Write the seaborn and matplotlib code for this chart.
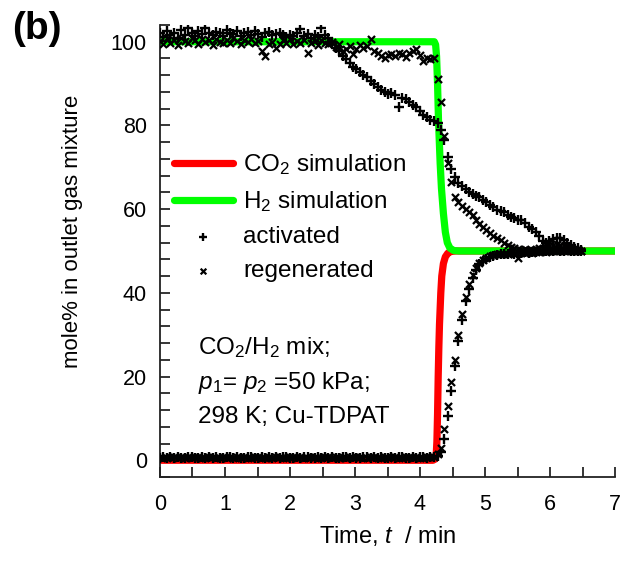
import matplotlib
matplotlib.use("Agg")
import matplotlib.pyplot as plt
from matplotlib.ticker import MultipleLocator
import pandas as pd
import seaborn as sns

# ---- simulated breakthrough curves (mole % vs time, min) ----
co2_sim_time = [0.0, 4.20, 4.235, 4.25, 4.26, 4.27, 4.28, 4.29, 4.30, 4.32,
                4.335, 4.36, 4.39, 4.43, 4.48, 4.55, 7.0]
co2_sim = [0.0, 0.0, 0.3, 1.5, 4.5, 11.0, 20.0, 27.0, 32.5, 40.0,
           44.0, 47.0, 48.6, 49.5, 49.9, 50.0, 50.0]

h2_sim_time = [0.0, 4.22, 4.24, 4.255, 4.27, 4.285, 4.31, 4.33, 4.36, 4.39,
               4.42, 4.46, 4.52, 4.60, 7.0]
h2_sim = [100.0, 100.0, 99.3, 96.5, 90.0, 81.0, 71.0, 65.0, 59.0, 54.5,
          52.0, 50.7, 50.1, 50.0, 50.0]

# ---- experimental sampling times (min) ----
t_exp = [0.00, 0.05, 0.11, 0.16, 0.22, 0.27, 0.32, 0.38, 0.43, 0.49,
         0.54, 0.59, 0.65, 0.70, 0.76, 0.81, 0.86, 0.92, 0.97, 1.03,
         1.08, 1.13, 1.19, 1.24, 1.30, 1.35, 1.40, 1.46, 1.51, 1.57,
         1.62, 1.67, 1.73, 1.78, 1.84, 1.89, 1.94, 2.00, 2.05, 2.11,
         2.16, 2.21, 2.27, 2.32, 2.38, 2.43, 2.48, 2.54, 2.59, 2.65,
         2.70, 2.75, 2.81, 2.86, 2.92, 2.97, 3.02, 3.08, 3.13, 3.19,
         3.24, 3.29, 3.35, 3.40, 3.46, 3.51, 3.56, 3.62, 3.67, 3.73,
         3.78, 3.83, 3.89, 3.94, 4.00, 4.05, 4.10, 4.16, 4.21, 4.27,
         4.32, 4.37, 4.43, 4.48, 4.54, 4.59, 4.64, 4.70, 4.75, 4.81,
         4.86, 4.91, 4.97, 5.02, 5.08, 5.13, 5.18, 5.24, 5.29, 5.35,
         5.40, 5.45, 5.51, 5.56, 5.62, 5.67, 5.72, 5.78, 5.83, 5.89,
         5.94, 5.99, 6.05, 6.10, 6.16, 6.21, 6.26, 6.32, 6.37, 6.43,
         6.48]

# ---- activated sample ----
activated_h2 = [102.0, 101.2, 102.5, 101.6, 102.2, 101.0, 102.8, 101.5, 103.3, 102.0,
                101.4, 102.6, 101.8, 103.3, 102.1, 101.6, 102.4, 102.0, 101.3, 102.7,
                102.2, 101.8, 102.5, 101.4, 102.0, 102.3, 101.7, 102.6, 101.9, 101.2,
                102.0, 102.4, 101.6, 101.9, 102.2, 101.5, 101.1, 101.7, 101.3, 102.0,
                103.0, 101.4, 101.9, 101.0, 101.6, 101.2, 103.3, 101.5, 101.0, 100.0,
                98.5, 97.8, 96.5, 95.8, 95.0, 94.0, 93.4, 92.8, 92.0, 91.5,
                90.6, 90.0, 89.2, 88.4, 88.0, 87.6, 87.8, 87.2, 84.5, 86.5,
                86.2, 85.6, 85.0, 84.3, 83.5, 82.6, 82.0, 81.4, 81.0, 80.5,
                79.0, 76.5, 72.5, 69.5, 67.8, 66.3, 65.5, 64.8, 64.2, 63.7,
                63.2, 62.8, 62.2, 61.6, 60.9, 60.4, 59.9, 59.5, 59.2, 58.7,
                58.2, 57.8, 57.3, 57.4, 56.6, 55.8, 55.2, 54.6, 53.5, 52.4,
                52.0, 52.3, 52.8, 53.2, 53.0, 52.6, 52.0, 51.5, 51.0, 50.6,
                50.3]
activated_co2 = [0.6, 0.7, 0.5, 0.8, 0.6, 0.7, 0.5, 0.6, 0.8, 0.7,
                 0.5, 0.6, 0.7, 0.6, 0.8, 0.5, 0.7, 0.6, 0.5, 0.7,
                 0.8, 0.6, 0.7, 0.5, 0.6, 0.8, 0.7, 0.6, 0.5, 0.7,
                 0.6, 0.8, 0.5, 0.7, 0.6, 0.7, 0.8, 0.6, 0.5, 0.7,
                 0.6, 0.7, 0.8, 0.5, 0.6, 0.7, 0.6, 0.8, 0.5, 0.7,
                 0.6, 0.5, 0.7, 0.8, 0.6, 0.7, 0.5, 0.6, 0.8, 0.7,
                 0.5, 0.7, 0.6, 0.8, 0.6, 0.5, 0.7, 0.6, 0.8, 0.7,
                 0.6, 0.5, 0.7, 0.6, 0.8, 0.7, 0.6, 0.7, 0.8, 1.1,
                 2.0, 5.0, 10.5, 16.5, 22.5, 28.5, 33.5, 38.0, 41.0, 43.5,
                 45.5, 46.8, 47.6, 48.2, 48.6, 48.9, 49.1, 49.2, 49.3, 49.4,
                 49.5, 49.4, 49.6, 49.5, 49.7, 49.6, 49.8, 49.7, 49.9, 50.0,
                 49.9, 50.1, 50.0, 50.2, 50.1, 50.0, 50.2, 50.1, 50.0, 50.1,
                 50.0]

# ---- regenerated sample ----
regenerated_h2 = [100.2, 99.4, 100.8, 99.8, 100.5, 99.2, 100.9, 100.1, 99.6, 101.0,
                  100.3, 99.5, 100.6, 99.9, 100.4, 99.3, 100.7, 100.0, 99.6, 100.5,
                  99.8, 100.9, 100.2, 99.5, 100.4, 99.9, 100.6, 99.7, 100.1, 97.9,
                  96.7, 99.5, 100.0, 98.6, 99.4, 100.3, 99.8, 100.6, 99.5, 100.2,
                  99.7, 100.4, 97.4, 99.6, 100.1, 99.3, 100.5, 99.8, 99.4, 100.0,
                  98.8, 99.5, 97.9, 98.3, 99.0, 97.0, 98.2, 99.3, 98.6, 99.0,
                  100.7, 97.9, 97.2, 96.5, 96.2, 96.8, 97.1, 96.6, 97.4, 97.0,
                  96.4, 97.4, 97.8, 98.3, 96.8, 95.5, 96.2, 95.8, 96.2, 91.0,
                  85.5, 77.5, 71.0, 66.5, 63.0, 61.8, 60.8, 60.0, 59.3, 58.5,
                  57.5, 56.5, 55.7, 55.0, 54.3, 53.6, 53.1, 52.6, 52.0, 51.5,
                  51.0, 50.7, 50.5, 50.3, 50.4, 50.2, 50.3, 50.5, 50.6, 50.8,
                  51.0, 51.3, 51.5, 51.6, 51.5, 51.2, 50.9, 50.6, 50.4, 50.2,
                  50.0]
regenerated_co2 = [0.7, 0.5, 0.6, 0.8, 0.7, 0.6, 0.8, 0.5, 0.7, 0.6,
                   0.8, 0.7, 0.5, 0.6, 0.7, 0.8, 0.6, 0.5, 0.7, 0.6,
                   0.7, 0.5, 0.8, 0.6, 0.7, 0.6, 0.5, 0.8, 0.7, 0.6,
                   0.5, 0.7, 0.6, 0.8, 0.7, 0.5, 0.6, 0.7, 0.8, 0.6,
                   0.7, 0.5, 0.6, 0.8, 0.7, 0.6, 0.5, 0.7, 0.8, 0.6,
                   0.7, 0.6, 0.8, 0.5, 0.7, 0.6, 0.8, 0.7, 0.5, 0.6,
                   0.7, 0.8, 0.6, 0.5, 0.7, 0.6, 0.8, 0.7, 0.6, 0.5,
                   0.7, 0.8, 0.6, 0.7, 0.5, 0.6, 0.8, 0.7, 0.8, 1.4,
                   3.0, 7.5, 13.0, 18.8, 24.0, 30.0, 35.0, 39.0, 42.0, 44.3,
                   46.0, 47.2, 47.9, 48.4, 48.8, 49.0, 49.2, 49.3, 49.2, 49.4,
                   49.5, 49.3, 48.3, 49.6, 49.5, 49.7, 49.6, 49.8, 49.7, 49.9,
                   49.8, 50.0, 49.9, 50.1, 50.0, 49.9, 50.1, 50.0, 49.9, 50.0,
                   49.9]

sns.set_style("ticks")
plt.rcParams["font.family"] = ["Liberation Sans", "DejaVu Sans"]
plt.rcParams["mathtext.fontset"] = "custom"
plt.rcParams["mathtext.rm"] = "Liberation Sans"
plt.rcParams["mathtext.it"] = "Liberation Sans:italic"
plt.rcParams["mathtext.bf"] = "Liberation Sans:bold"
for key in ("text.color", "axes.labelcolor", "xtick.color", "ytick.color",
            "axes.edgecolor"):
    plt.rcParams[key] = "black"

TICK_FS = 15.5
TEXT_FS = 17.5
W, H = 623, 570
fig = plt.figure(figsize=(W / 100, H / 100), dpi=100)
ax = fig.add_axes([160 / W, 1 - 477 / H, 455 / W, 452 / H])

co2_df = pd.DataFrame({"t": co2_sim_time, "y": co2_sim})
h2_df = pd.DataFrame({"t": h2_sim_time, "y": h2_sim})
act_df = pd.DataFrame({"t": t_exp + t_exp, "y": activated_h2 + activated_co2})
reg_df = pd.DataFrame({"t": t_exp + t_exp, "y": regenerated_h2 + regenerated_co2})

line_kw = dict(estimator=None, sort=False, lw=5.2,
               solid_capstyle="round", solid_joinstyle="round")
sns.lineplot(data=co2_df, x="t", y="y", color="#ff0000", ax=ax,
             label="CO$_2$ simulation", zorder=2, **line_kw)
sns.lineplot(data=h2_df, x="t", y="y", color="#00ff00", ax=ax,
             label="H$_2$ simulation", zorder=2.5, **line_kw)
sns.scatterplot(data=act_df, x="t", y="y", marker="+", color="black",
                s=42, linewidth=1.7, ax=ax, label="activated", zorder=3)
sns.scatterplot(data=reg_df, x="t", y="y", marker="x", color="black",
                s=26, linewidth=1.6, ax=ax, label="regenerated", zorder=3)

ax.set_xlim(0, 7)
ax.set_ylim(-4, 104)
ax.xaxis.set_major_locator(MultipleLocator(1))
ax.xaxis.set_minor_locator(MultipleLocator(0.5))
ax.yaxis.set_major_locator(MultipleLocator(20))
ax.yaxis.set_minor_locator(MultipleLocator(4))
ax.tick_params(which="both", direction="in", length=7, width=1.1,
               color="black", labelsize=TICK_FS, labelcolor="black")
ax.tick_params(axis="x", which="both", pad=12)
ax.tick_params(axis="y", which="both", pad=9.5)
sns.despine(ax=ax)
for side in ("left", "bottom"):
    ax.spines[side].set_linewidth(1.3)
    ax.spines[side].set_color("#222222")

ax.set_xlabel("Time, $t$  / min", fontsize=17)
ax.set_ylabel("mole% in outlet gas mixture", fontsize=16)
ax.yaxis.set_label_coords(-0.169, 0.544)
ax.xaxis.set_label_coords(0.5, -0.103)

ax.legend(loc="upper left", bbox_to_anchor=(0.03, 0.719), frameon=False,
          fontsize=TEXT_FS, handlelength=2.45, handletextpad=0.42,
          labelspacing=0.5, borderpad=0, borderaxespad=0, markerscale=0.8)

notes = ["CO$_2$/H$_2$ mix;", "$p_1$= $p_2$ =50 kPa;", "298 K; Cu-TDPAT"]
for txt, py in zip(notes, [348, 383, 417]):
    ax.text((198 - 160) / 455, (477 - py) / 452, txt, transform=ax.transAxes,
            fontsize=TEXT_FS, ha="left", va="center")

fig.text(12 / W, 1 - 11 / H, "(b)", fontsize=28, fontweight="bold",
         ha="left", va="top")

fig.savefig("out.png", dpi=100)
